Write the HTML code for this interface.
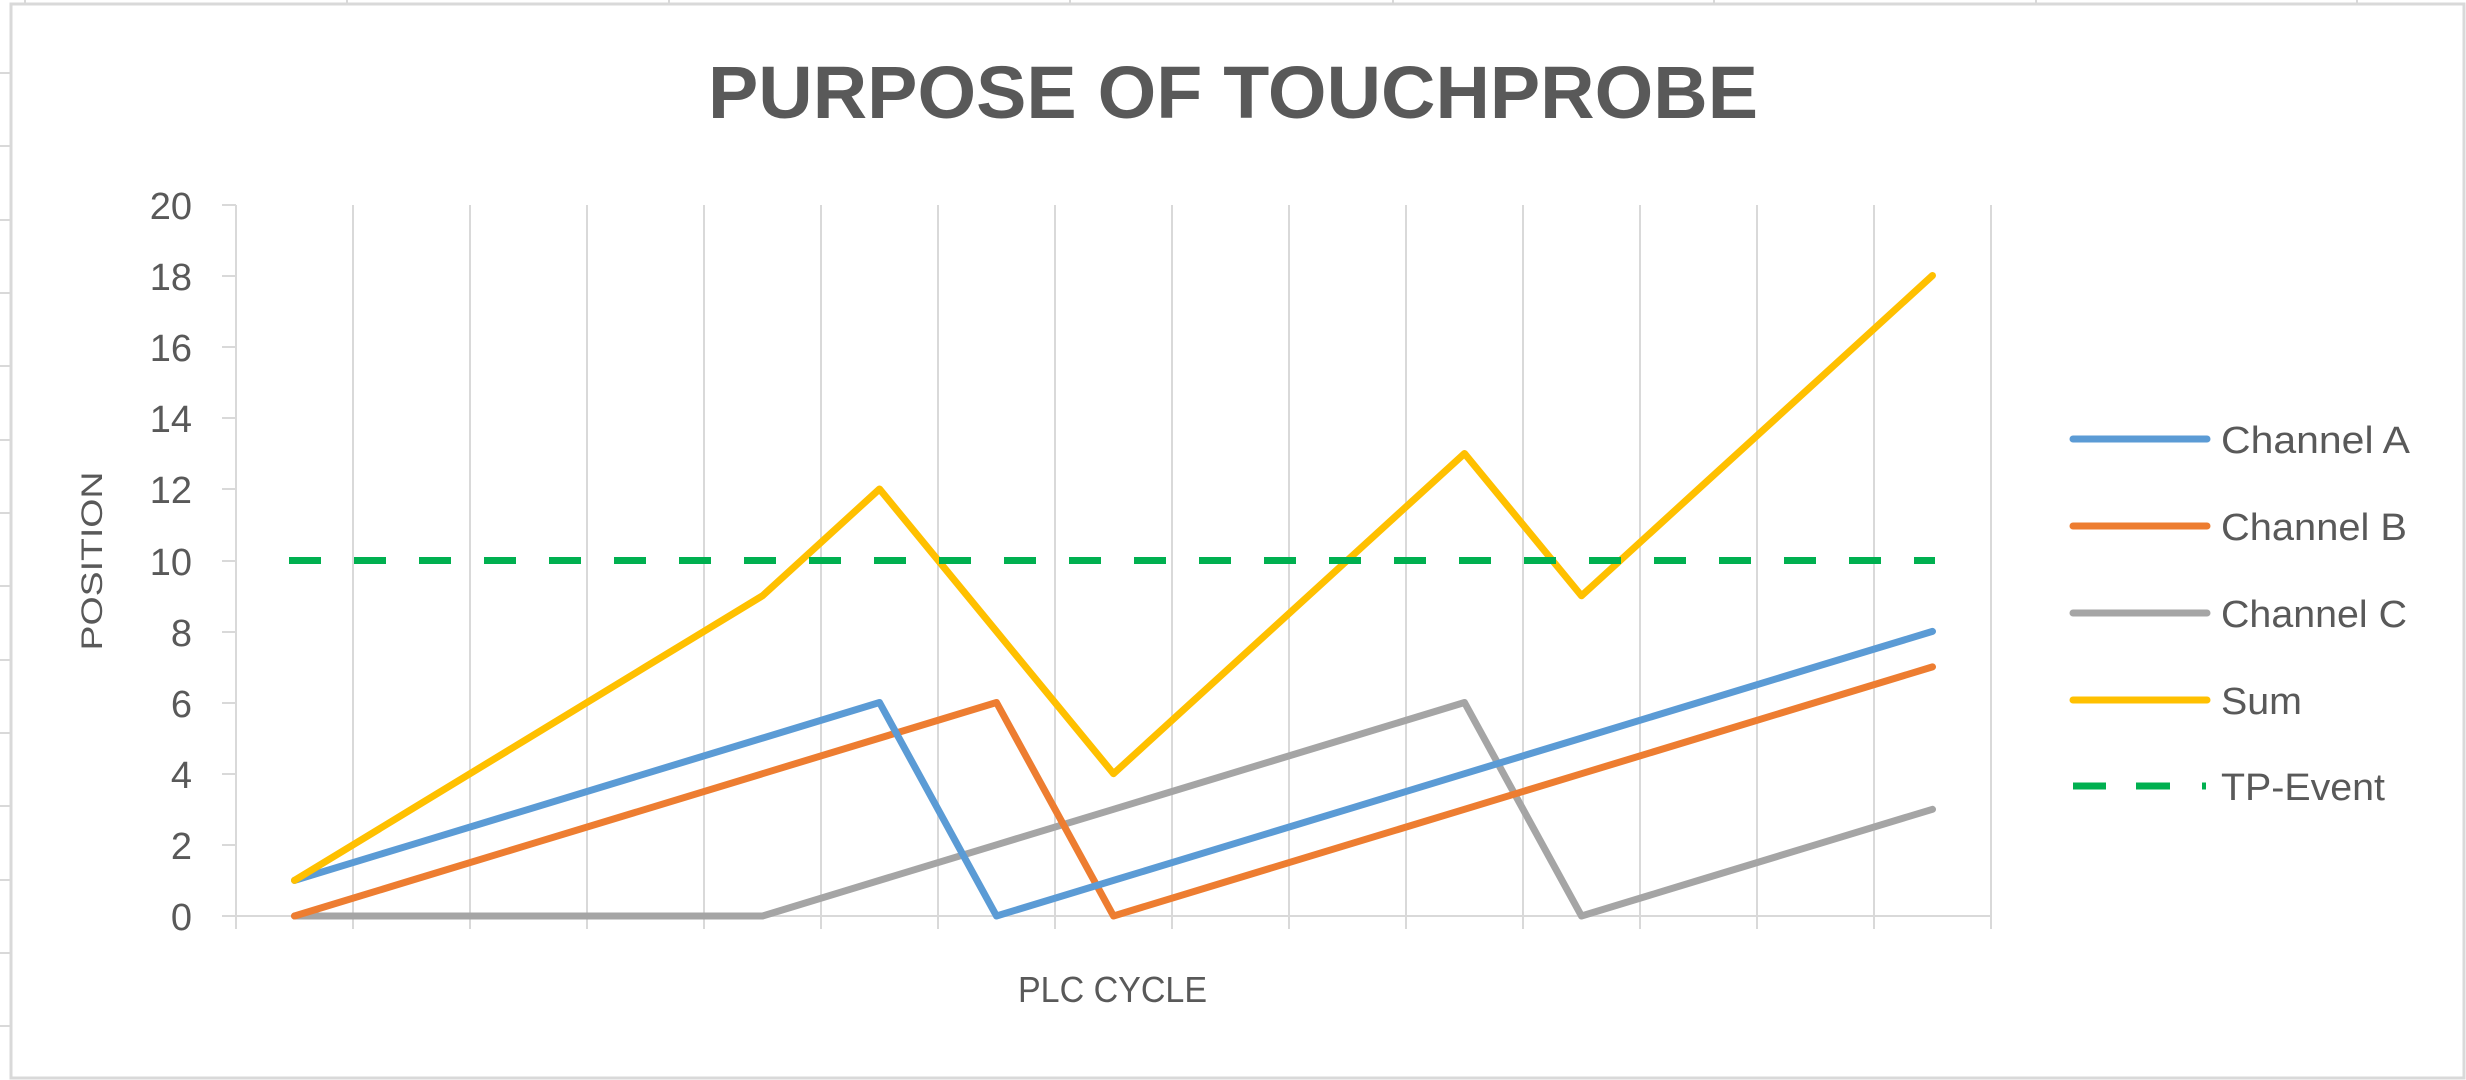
<!DOCTYPE html>
<html><head><meta charset="utf-8"><style>
html,body{margin:0;padding:0;background:#fff;}
svg{display:block;}
text{font-family:"Liberation Sans",sans-serif;fill:#595959;}
</style></head><body>
<svg width="2466" height="1080" viewBox="0 0 2466 1080" xmlns="http://www.w3.org/2000/svg">
<rect x="0" y="0" width="2466" height="1080" fill="#fff"/>
<g stroke="#d9d9d9" stroke-width="2">
<line x1="25" y1="0" x2="25" y2="4"/><line x1="347" y1="0" x2="347" y2="4"/><line x1="669" y1="0" x2="669" y2="4"/><line x1="1070" y1="0" x2="1070" y2="4"/><line x1="1393" y1="0" x2="1393" y2="4"/><line x1="1714" y1="0" x2="1714" y2="4"/><line x1="2036" y1="0" x2="2036" y2="4"/><line x1="2357" y1="0" x2="2357" y2="4"/>
<line x1="0" y1="73" x2="11" y2="73"/><line x1="0" y1="146" x2="11" y2="146"/><line x1="0" y1="220" x2="11" y2="220"/><line x1="0" y1="293" x2="11" y2="293"/><line x1="0" y1="366" x2="11" y2="366"/><line x1="0" y1="440" x2="11" y2="440"/><line x1="0" y1="513" x2="11" y2="513"/><line x1="0" y1="586" x2="11" y2="586"/><line x1="0" y1="660" x2="11" y2="660"/><line x1="0" y1="733" x2="11" y2="733"/><line x1="0" y1="806" x2="11" y2="806"/><line x1="0" y1="880" x2="11" y2="880"/><line x1="0" y1="953" x2="11" y2="953"/><line x1="0" y1="1026" x2="11" y2="1026"/>
</g>
<rect x="11" y="4" width="2453" height="1074" fill="#fff" stroke="#d9d9d9" stroke-width="3"/>
<text x="1233" y="118" font-size="74" font-weight="bold" text-anchor="middle" textLength="1050" lengthAdjust="spacingAndGlyphs">PURPOSE OF TOUCHPROBE</text>
<g stroke="#d9d9d9" stroke-width="2">
<line x1="353" y1="205" x2="353" y2="929"/><line x1="470" y1="205" x2="470" y2="929"/><line x1="587" y1="205" x2="587" y2="929"/><line x1="704" y1="205" x2="704" y2="929"/><line x1="821" y1="205" x2="821" y2="929"/><line x1="938" y1="205" x2="938" y2="929"/><line x1="1055" y1="205" x2="1055" y2="929"/><line x1="1172" y1="205" x2="1172" y2="929"/><line x1="1289" y1="205" x2="1289" y2="929"/><line x1="1406" y1="205" x2="1406" y2="929"/><line x1="1523" y1="205" x2="1523" y2="929"/><line x1="1640" y1="205" x2="1640" y2="929"/><line x1="1757" y1="205" x2="1757" y2="929"/><line x1="1874" y1="205" x2="1874" y2="929"/><line x1="1991" y1="205" x2="1991" y2="929"/>
<line x1="236" y1="205" x2="236" y2="929"/>
<line x1="236" y1="916" x2="1991" y2="916"/>
<line x1="222" y1="205" x2="236" y2="205"/><line x1="222" y1="276" x2="236" y2="276"/><line x1="222" y1="347" x2="236" y2="347"/><line x1="222" y1="418" x2="236" y2="418"/><line x1="222" y1="489" x2="236" y2="489"/><line x1="222" y1="561" x2="236" y2="561"/><line x1="222" y1="632" x2="236" y2="632"/><line x1="222" y1="703" x2="236" y2="703"/><line x1="222" y1="774" x2="236" y2="774"/><line x1="222" y1="845" x2="236" y2="845"/><line x1="222" y1="916" x2="236" y2="916"/>
</g>
<g font-size="38" text-anchor="end">
<text x="192" y="219">20</text><text x="192" y="290">18</text><text x="192" y="361">16</text><text x="192" y="432">14</text><text x="192" y="503">12</text><text x="192" y="575">10</text><text x="192" y="646">8</text><text x="192" y="717">6</text><text x="192" y="788">4</text><text x="192" y="859">2</text><text x="192" y="930">0</text>
</g>
<text transform="translate(102,561) rotate(-90)" font-size="30" text-anchor="middle" textLength="179" lengthAdjust="spacingAndGlyphs">POSITION</text>
<text x="1018" y="1002" font-size="36" textLength="189" lengthAdjust="spacingAndGlyphs">PLC CYCLE</text>
<g fill="none" stroke-width="7" stroke-linejoin="round" stroke-linecap="round">
<polyline stroke="#a5a5a5" points="294.5,916 411.5,916 528.5,916 645.5,916 762.5,916 879.5,880.4 996.5,844.8 1113.5,809.3 1230.5,773.7 1347.5,738.1 1464.5,702.5 1581.5,916 1698.5,880.4 1815.5,844.8 1932.5,809.3"/>
<polyline stroke="#ed7d31" points="294.5,916 411.5,880.4 528.5,844.8 645.5,809.3 762.5,773.7 879.5,738.1 996.5,702.5 1113.5,916 1230.5,880.4 1347.5,844.8 1464.5,809.3 1581.5,773.7 1698.5,738.1 1815.5,702.5 1932.5,666.9"/>
<polyline stroke="#5b9bd5" points="294.5,880.4 411.5,844.8 528.5,809.3 645.5,773.7 762.5,738.1 879.5,702.5 996.5,916 1113.5,880.4 1230.5,844.8 1347.5,809.3 1464.5,773.7 1581.5,738.1 1698.5,702.5 1815.5,666.9 1932.5,631.4"/>
<polyline stroke="#ffc000" points="294.5,880.4 411.5,809.3 528.5,738.1 645.5,666.9 762.5,595.8 879.5,489 996.5,631.4 1113.5,773.7 1230.5,666.9 1347.5,560.2 1464.5,453.5 1581.5,595.8 1698.5,489 1815.5,382.3 1932.5,275.5"/>
<line stroke="#00b050" stroke-linecap="butt" stroke-dasharray="32 33" x1="289" y1="560.5" x2="1935" y2="560.5"/>
</g>
<g stroke-width="7" stroke-linecap="round">
<line stroke="#5b9bd5" x1="2073" y1="439" x2="2207" y2="439"/>
<line stroke="#ed7d31" x1="2073" y1="526" x2="2207" y2="526"/>
<line stroke="#a5a5a5" x1="2073" y1="613" x2="2207" y2="613"/>
<line stroke="#ffc000" x1="2073" y1="700" x2="2207" y2="700"/>
<line stroke="#00b050" stroke-linecap="butt" x1="2073" y1="786" x2="2106" y2="786"/>
<line stroke="#00b050" stroke-linecap="butt" x1="2136" y1="786" x2="2170" y2="786"/>
<line stroke="#00b050" stroke-linecap="butt" x1="2202" y1="786" x2="2206" y2="786"/>
</g>
<g font-size="38">
<text x="2221" y="453" textLength="189" lengthAdjust="spacingAndGlyphs">Channel A</text>
<text x="2221" y="540" textLength="186" lengthAdjust="spacingAndGlyphs">Channel B</text>
<text x="2221" y="627" textLength="186" lengthAdjust="spacingAndGlyphs">Channel C</text>
<text x="2221" y="714" textLength="81" lengthAdjust="spacingAndGlyphs">Sum</text>
<text x="2221" y="800" textLength="164" lengthAdjust="spacingAndGlyphs">TP-Event</text>
</g>
</svg>
</body></html>
